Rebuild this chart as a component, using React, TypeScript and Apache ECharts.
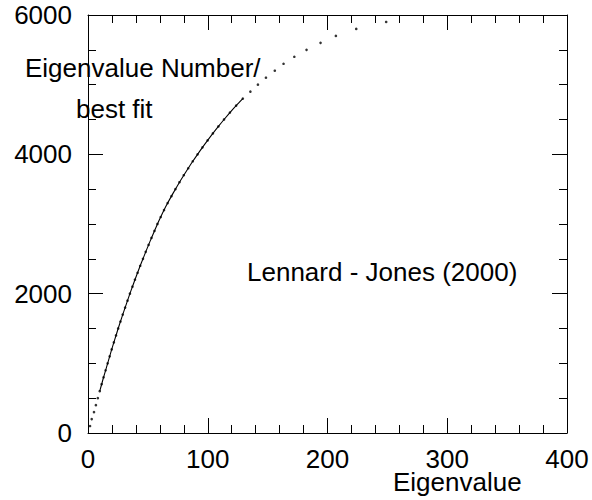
import React, { useEffect, useRef } from "react";
import * as echarts from "echarts";

// Eigenvalue number (y) for each sampled eigenvalue (x)
const eigenNumber = [
  100, 200, 300, 400, 500, 600, 700, 800, 900, 1000,
  1100, 1200, 1300, 1400, 1500, 1600, 1700, 1800, 1900, 2000,
  2100, 2200, 2300, 2400, 2500, 2600, 2700, 2800, 2900, 3000,
  3100, 3200, 3300, 3400, 3500, 3600, 3700, 3800, 3900, 4000,
  4100, 4200, 4300, 4400, 4500, 4600, 4700, 4800, 4900, 5000,
  5100, 5200, 5300, 5400, 5500, 5600, 5700, 5800, 5900,
];
const eigenvalue = [
  1.7, 3.1, 5.0, 6.6, 8.2, 9.8, 11.4, 13.0, 14.7, 16.4,
  18.1, 19.8, 21.6, 23.4, 25.2, 27.1, 29.0, 31.0, 33.0, 35.0,
  37.1, 39.2, 41.4, 43.6, 45.9, 48.2, 50.6, 53.0, 55.5, 58.0,
  60.7, 63.5, 66.5, 69.7, 73.0, 76.4, 80.0, 83.7, 87.5, 91.5,
  95.6, 99.9, 104.3, 108.9, 113.6, 118.5, 123.7, 129.3, 135.6, 141.9,
  148.6, 156.0, 163.3, 172.3, 182.5, 194.2, 207.0, 224.0, 249.0,
];
// best-fit curve covers this eigenvalue-number range
const fitStart = 600;
const fitEnd = 4800;

const xTicks = [0, 100, 200, 300, 400];
const yTicks = [0, 2000, 4000, 6000];

const FONT = "'Liberation Sans', Arial, Helvetica, sans-serif";
const FS = 26;

export default function App() {
  const ref = useRef<HTMLDivElement>(null);
  useEffect(() => {
    if (!ref.current) return;
    const chart = echarts.init(ref.current, undefined, { renderer: "svg" });
    const points = eigenvalue.map((x, i) => [x, eigenNumber[i]]);
    const fit = points.filter((p) => p[1] >= fitStart && p[1] <= fitEnd);

    const common = {
      axisLine: { show: true, onZero: false, lineStyle: { color: "#000", width: 1 } },
      axisTick: { show: true, inside: true, length: 15, lineStyle: { color: "#000", width: 1 } },
      minorTick: { show: true, length: 8, lineStyle: { color: "#000", width: 1 } },
      splitLine: { show: false },
      minorSplitLine: { show: false },
    };
    const xAx = {
      type: "value",
      min: xTicks[0],
      max: xTicks[xTicks.length - 1],
      interval: xTicks[1] - xTicks[0],
      ...common,
      minorTick: { ...common.minorTick, splitNumber: 5 },
    };
    const yAx = {
      type: "value",
      min: yTicks[0],
      max: yTicks[yTicks.length - 1],
      interval: yTicks[1] - yTicks[0],
      ...common,
      minorTick: { ...common.minorTick, splitNumber: 4 },
    };

    chart.setOption({
      animation: false,
      backgroundColor: "#fff",
      grid: {
        left: 88,
        right: 25,
        top: 15,
        bottom: 67,
        containLabel: false,
        outerBoundsMode: "none",
      },
      xAxis: [
        {
          ...xAx,
          position: "bottom",
          axisLabel: {
            show: true,
            color: "#000",
            fontFamily: FONT,
            fontSize: FS,
            margin: 13,
            formatter: (v: number) => String(v),
          },
        },
        { ...xAx, position: "top", axisLabel: { show: false } },
      ],
      yAxis: [
        {
          ...yAx,
          position: "left",
          axisLabel: {
            show: true,
            color: "#000",
            fontFamily: FONT,
            fontSize: FS,
            margin: 16,
            padding: [6, 0, 0, 0],
            formatter: (v: number) => String(v),
          },
        },
        { ...yAx, position: "right", axisLabel: { show: false } },
      ],
      series: [
        {
          type: "line",
          data: fit,
          xAxisIndex: 0,
          yAxisIndex: 0,
          showSymbol: false,
          symbol: "none",
          smooth: 0.3,
          lineStyle: { color: "#000", width: 1.1 },
          z: 2,
        },
        {
          type: "scatter",
          data: points,
          xAxisIndex: 0,
          yAxisIndex: 0,
          symbol: "circle",
          symbolSize: 2.6,
          itemStyle: { color: "#000" },
          z: 3,
        },
      ],
      graphic: [
        {
          type: "text",
          left: 25,
          top: 55,
          style: { text: "Eigenvalue Number/", font: `${FS}px ${FONT}`, fill: "#000" },
        },
        {
          type: "text",
          left: 76,
          top: 96,
          style: { text: "best fit", font: `${FS}px ${FONT}`, fill: "#000" },
        },
        {
          type: "text",
          left: 247,
          top: 259,
          style: { text: "Lennard - Jones (2000)", font: `${FS}px ${FONT}`, fill: "#000" },
        },
        {
          type: "text",
          left: 393,
          top: 469,
          style: { text: "Eigenvalue", font: `${FS}px ${FONT}`, fill: "#000" },
        },
      ],
    });
    return () => chart.dispose();
  }, []);
  return (
    <div
      ref={ref}
      style={{ position: "fixed", left: 0, top: 0, width: 592, height: 500 }}
    />
  );
}
